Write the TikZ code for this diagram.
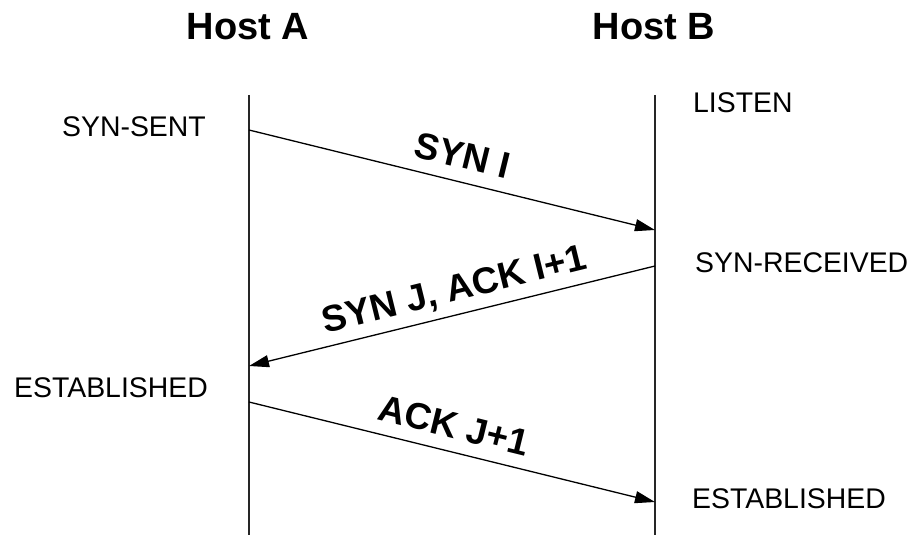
\documentclass[tikz,border=0pt]{standalone}
\usepackage{fontspec}
\setmainfont{Liberation Sans}
\usetikzlibrary{arrows.meta}

\tikzset{
  host/.style={font=\fontsize{38}{45}\selectfont\bfseries},
  state/.style={font=\fontsize{28.4}{34}\selectfont,inner sep=0pt},
  life/.style={line width=2.5pt,black!85},
  msg/.style={line width=1.3pt,-{Triangle[length=20pt,width=12pt]}},
  msglabel/.style={sloped,above,inner sep=13pt,text depth=0pt,
    font=\fontsize{37}{44}\selectfont\bfseries}
}

\begin{document}
\begin{tikzpicture}[x=1pt,y=-1pt]
    \useasboundingbox (0,0) rectangle (911,535);
    % hosts and their time lines
    \node[host] (hostA) at (248,27) {Host A};
    \node[host] (hostB) at (654,27) {Host B};
    \coordinate (topA) at (249,95);
    \coordinate (botA) at (249,535);
    \coordinate (topB) at (655,95);
    \coordinate (botB) at (655,535);
    \draw[life] (topA) -- (botA);
    \draw[life] (topB) -- (botB);
    % points where the segments leave and arrive
    \coordinate (synA) at (249,130);
    \coordinate (synB) at (655,230);
    \coordinate (ackB) at (655,266);
    \coordinate (ackA) at (249,366);
    \coordinate (finA) at (249,402);
    \coordinate (finB) at (655,502);
    \draw[msg] (synA) -- node[msglabel,pos=0.51] {SYN I} (synB);
    \draw[msg] (ackB) -- node[msglabel,pos=0.48] {SYN J, ACK I+1} (ackA);
    \draw[msg] (finA) -- node[msglabel,pos=0.49] {ACK J+1} (finB);
    % states
    \node[state,anchor=east] (sentA) at (206,127) {SYN-SENT};
    \node[state,anchor=east] (estA) at (208,388) {ESTABLISHED};
    \node[state,anchor=west] (listenB) at (693,103) {LISTEN};
    \node[state,anchor=west] (recvB) at (695,263) {SYN-RECEIVED};
    \node[state,anchor=west] (estB) at (692,499) {ESTABLISHED};
\end{tikzpicture}
\end{document}
